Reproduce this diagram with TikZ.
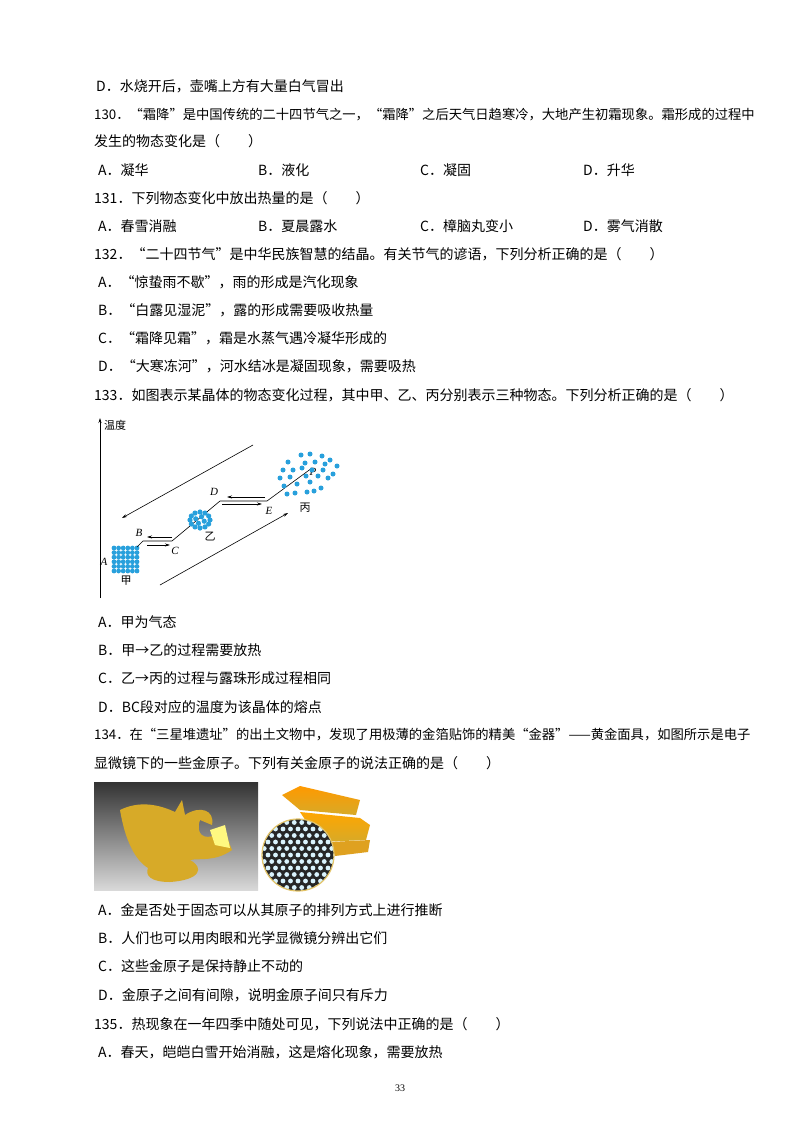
\documentclass[tikz,border=0pt]{standalone}
\usepackage{fontspec}
\setmainfont{Liberation Serif}
\newfontfamily\cjk{Noto Sans CJK SC}
\usetikzlibrary{arrows.meta,calc}
\definecolor{dotblue}{RGB}{40,160,220}
\definecolor{gold}{RGB}{215,170,40}
\begin{document}
\begin{tikzpicture}[x=1pt,y=-1pt,
  t/.style={anchor=west,inner sep=0pt,font=\cjk\fontsize{14}{14}\selectfont},
  tn/.style={anchor=west,inner sep=0pt,font=\cjk\fontsize{13.3}{14}\selectfont},
  lb/.style={inner sep=0pt,font=\itshape\fontsize{11}{11}\selectfont},
  cl/.style={inner sep=0pt,font=\cjk\fontsize{11}{11}\selectfont},
  dot/.style={fill=dotblue,draw=none},
  ar/.style={-{Stealth[length=5pt,width=3pt]},line width=0.6pt}]
\useasboundingbox[fill=white] (0,0) rectangle (800,1132);
\node[t] (l1) at (96,86) {D．水烧开后，壶嘴上方有大量白气冒出};
\node[tn] (l2) at (94,115) {130．“霜降”是中国传统的二十四节气之一，“霜降”之后天气日趋寒冷，大地产生初霜现象。霜形成的过程中};
\node[t] (l3) at (94,141) {发生的物态变化是（　　）};
\node[t] (o1) at (98,170) {A．凝华}; \node[t] (o2) at (258,170) {B．液化};
\node[t] (o3) at (420,170) {C．凝固}; \node[t] (o4) at (583,170) {D．升华};
\node[t] (l4) at (94,198) {131．下列物态变化中放出热量的是（　　）};
\node[t] (p1) at (98,226) {A．春雪消融}; \node[t] (p2) at (258,226) {B．夏晨露水};
\node[t] (p3) at (420,226) {C．樟脑丸变小}; \node[t] (p4) at (583,226) {D．雾气消散};
\node[t] (l5) at (94,254) {132．“二十四节气”是中华民族智慧的结晶。有关节气的谚语，下列分析正确的是（　　）};
\node[t] (q1) at (98,282) {A．“惊蛰雨不歇”，雨的形成是汽化现象};
\node[t] (q2) at (98,310) {B．“白露见湿泥”，露的形成需要吸收热量};
\node[t] (q3) at (98,338) {C．“霜降见霜”，霜是水蒸气遇冷凝华形成的};
\node[t] (q4) at (98,366) {D．“大寒冻河”，河水结冰是凝固现象，需要吸热};
\node[t] (l6) at (94,395) {133．如图表示某晶体的物态变化过程，其中甲、乙、丙分别表示三种物态。下列分析正确的是（　　）};
% diagram
\coordinate (ax0) at (100,598); \coordinate (ax1) at (100,418);
\draw[ar] (ax0) -- (ax1);
\node[cl,anchor=west] (wd) at (104,425) {温度};
\foreach \i in {0,...,5}{\foreach \j in {0,...,5}{\fill[dot] (114+\i*4.6,548+\j*4.6) circle (2.4);}}
\node[lb] (A) at (104,562) {A};
\node[cl] (jia) at (126,581) {甲};
\coordinate (p0) at (137,547); \coordinate (pB) at (143,541); \coordinate (pC) at (172,541);
\coordinate (pD) at (220,501); \coordinate (pE) at (267,501); \coordinate (pF) at (312,468);
\draw[line width=0.6pt] (p0) -- (pB) -- (pC) -- (pD) -- (pE) -- (pF);
\node[lb] (B) at (139,533) {B}; \node[lb] (C) at (175,551) {C};
\node[lb] (D) at (214,492) {D}; \node[lb] (E) at (269,511) {E};
\node[lb] (P) at (313,472) {P};
\draw[ar] (172,537) -- (147,537); \draw[ar] (147,545) -- (170,545);
\draw[ar] (265,497) -- (227,497); \draw[ar] (222,504) -- (262,504);
\foreach \a in {0,30,...,330}{\fill[dot] ($(200,520)+(\a:10 and 8)$) circle (2.6);}
\foreach \a in {20,110,200,290}{\fill[dot] ($(200,520)+(\a:4.5 and 3.5)$) circle (2.6);}
\node[cl] (yi) at (210,537) {乙};
\foreach \p in {(301,455),(310,454),(322,456),(330,460),(288,462),(305,463),(315,462),(325,464),(337,466),(283,470),(293,470),(302,468),(312,470),(323,470),(333,474),(280,478),(290,477),(306,476),(318,476),(328,478),(284,486),(297,484),(310,482),(321,488),(295,493),(307,492),(314,491),(287,494)}
  {\fill[dot] \p circle (2.5);}
\node[cl] (bing) at (305,508) {丙};
\coordinate (u0) at (253,445); \coordinate (u1) at (122,518);
\coordinate (w0) at (160,585); \coordinate (w1) at (288,513);
\draw[ar] (u0) -- (u1); \draw[ar] (w0) -- (w1);
\node[t] (r1) at (98,622) {A．甲为气态};
\node[t] (r2) at (98,650) {B．甲→乙的过程需要放热};
\node[t] (r3) at (98,678) {C．乙→丙的过程与露珠形成过程相同};
\node[t] (r4) at (98,707) {D．BC段对应的温度为该晶体的熔点};
\node[tn] (l7) at (94,735) {134．在“三星堆遗址”的出土文物中，发现了用极薄的金箔贴饰的精美“金器”——黄金面具，如图所示是电子};
\node[t] (l8) at (94,763) {显微镜下的一些金原子。下列有关金原子的说法正确的是（　　）};
% photos
\shade[top color=black!80,bottom color=black!15] (94,782) rectangle (258,890);
\fill[gold] (120,810) .. controls (140,800) and (160,805) .. (175,812) -- (182,800) -- (185,815)
  .. controls (200,805) and (215,810) .. (212,825) -- (200,820) .. controls (195,835) and (205,840) .. (215,835)
  -- (225,832) -- (232,850) .. controls (215,862) and (200,858) .. (190,860)
  .. controls (205,868) and (200,880) .. (170,882) .. controls (150,882) and (145,875) .. (148,868)
  .. controls (135,860) and (125,840) .. (120,810) -- cycle;
\fill[yellow!50!white] (210,830) -- (225,825) -- (230,848) -- (215,845) -- cycle;
\shade[top color=orange!80!yellow,bottom color=gold] (282,795) -- (300,786) -- (360,800) -- (356,815) -- (300,810) -- cycle;
\shade[top color=orange!70!yellow,bottom color=gold] (300,812) -- (360,818) -- (370,825) -- (366,840) -- (320,842) -- cycle;
\fill[gold!80!orange] (330,842) -- (370,840) -- (368,852) -- (335,856) -- cycle;
\begin{scope}
\clip (298,855) circle (36);
\fill[black!85] (298,855) circle (36);
\foreach \r in {-5,...,5}{\foreach \c in {-5,...,5}{\fill[white!85!cyan] ({298+\c*7.5+mod(abs(\r),2)*3.75},{855+\r*6.5}) circle (2.4);}}
\end{scope}
\draw[gold!70!white,line width=1.2pt] (298,855) circle (36);
\node[t] (s1) at (98,910) {A．金是否处于固态可以从其原子的排列方式上进行推断};
\node[t] (s2) at (98,938) {B．人们也可以用肉眼和光学显微镜分辨出它们};
\node[t] (s3) at (98,966) {C．这些金原子是保持静止不动的};
\node[t] (s4) at (98,995) {D．金原子之间有间隙，说明金原子间只有斥力};
\node[t] (l9) at (94,1024) {135．热现象在一年四季中随处可见，下列说法中正确的是（　　）};
\node[t] (s5) at (98,1052) {A．春天，皑皑白雪开始消融，这是熔化现象，需要放热};
\node[inner sep=0pt,font=\fontsize{10}{10}\selectfont] (pg) at (400,1088) {33};
\end{tikzpicture}
\end{document}
